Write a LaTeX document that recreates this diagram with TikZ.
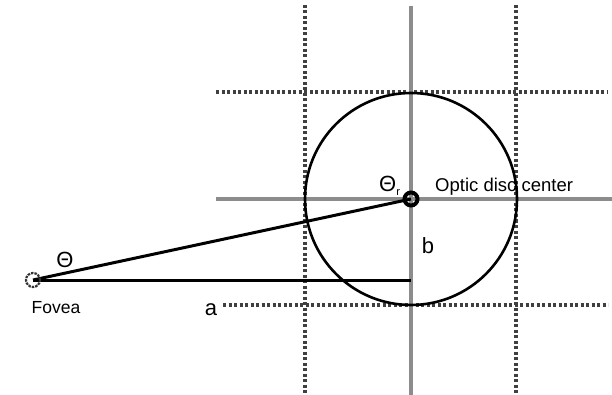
\documentclass[tikz,border=0pt]{standalone}
\usepackage{fontspec}
\setmainfont{Liberation Sans}
\begin{document}
\begin{tikzpicture}[x=1pt,y=-1pt,
  dotline/.style={draw=black!75, line width=3.2pt, dash pattern=on 3pt off 2.5pt},
  axisline/.style={draw=black!45, line width=3.5pt},
  thickline/.style={draw=black, line width=3pt},
  lbl/.style={inner sep=0pt, font=\fontsize{22}{22}\selectfont},
  smalllbl/.style={inner sep=0pt, font=\fontsize{18.5}{19}\selectfont}]
\useasboundingbox (0,0) rectangle (612,395);
% grid
\coordinate (vt) at (411,6);
\coordinate (vb) at (411,395);
\coordinate (lt) at (305,5);
\coordinate (lb) at (305,395);
\coordinate (rt) at (516,5);
\coordinate (rb) at (516,395);
\coordinate (tl) at (216,92);
\coordinate (tr) at (608,92);
\coordinate (bl) at (223,305);
\coordinate (br) at (608,305);
\coordinate (hl) at (216,199);
\coordinate (hr) at (612,199);
\draw[dotline] (lt) -- (lb);
\draw[dotline] (rt) -- (rb);
\draw[dotline] (tl) -- (tr);
\draw[dotline] (bl) -- (br);
\draw[axisline] (vt) -- (vb);
\draw[axisline] (hl) -- (hr);
% big circle
\node[draw=black, line width=2.6pt, circle, minimum size=212pt, inner sep=0pt] (disc) at (411,199) {};
% optic disc center and fovea
\coordinate (odc) at (411,199);
\coordinate (fov) at (33,280);
\coordinate (foot) at (411,280);
\draw[thickline] (fov) -- (odc);
\draw[draw=black, line width=3pt] (fov) -- (foot);
\node[draw=black, line width=4pt, circle, minimum size=13pt, inner sep=0pt] (odcm) at (odc) {};
\node[draw=black!80, line width=2.2pt, dash pattern=on 2.5pt off 1pt, circle, minimum size=14pt, inner sep=0pt] (fovm) at (fov) {};
% labels
\node[lbl, anchor=base] (theta) at (65,267) {Θ};
\node[lbl, anchor=base west] (thetar) at (379,192) {Θ\raisebox{-4pt}{\fontsize{11}{11}\selectfont r}};
\node[smalllbl, anchor=base west] (odctext) at (435,192) {Optic disc center};
\node[lbl, anchor=base] (b) at (428,253) {b};
\node[lbl, anchor=base] (a) at (211,315) {a};
\node[smalllbl, font=\fontsize{17.5}{18}\selectfont, anchor=base] (fovtext) at (56,313) {Fovea};
\end{tikzpicture}
\end{document}
